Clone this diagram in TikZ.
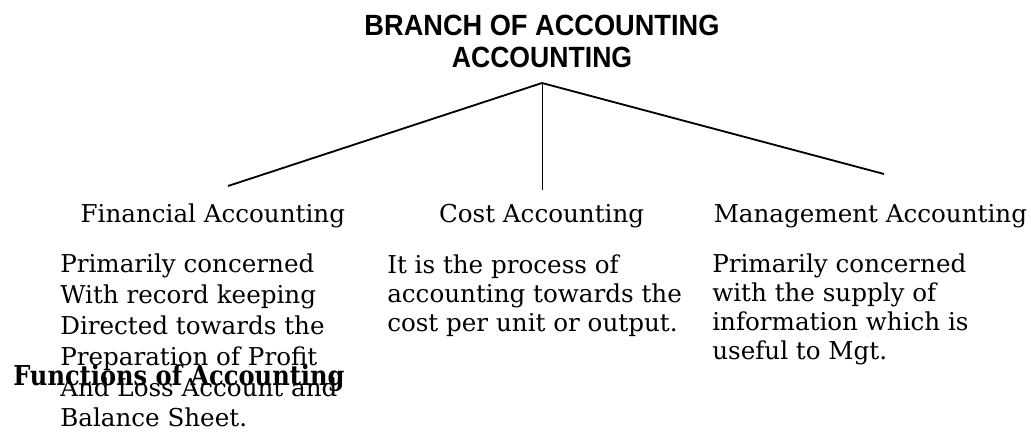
\documentclass[tikz,border=0pt]{standalone}
\usepackage{fontspec}
\usepackage{graphicx}
\usepackage{xcolor}
\setmainfont{DejaVu Serif}
\newfontfamily\titlefont{Liberation Sans}

\begin{document}
\begin{tikzpicture}
\def \headfont {\fontsize{17.5}{21}\selectfont}
\def \bodyfont {\fontsize{17.5}{20.6}\selectfont}

\useasboundingbox (0,0) rectangle (25.775,-10.825);

\node[font=\titlefont\bfseries\fontsize{20.8}{24}\selectfont] at (13.55,-0.64) (title) {\scalebox{0.93}[1]{BRANCH OF ACCOUNTING}};
\node[font=\titlefont\bfseries\fontsize{20.8}{24}\selectfont] at (13.55,-1.44) (acc) {\scalebox{0.91}[1]{ACCOUNTING}};

\coordinate (apex) at (13.55,-2.075);
\coordinate (fin end) at (5.7,-4.65);
\coordinate (cost end) at (13.55,-4.75);
\coordinate (mgt end) at (22.1,-4.35);

\draw[line width=1.3pt] (apex) -- (fin end);
\draw[line width=0.7pt] (apex) -- (cost end);
\draw[line width=1.3pt] (apex) -- (mgt end);

\node[font=\headfont] at (5.32,-5.4) (fin) {Financial Accounting};
\node[font=\headfont] at (13.54,-5.4) (cost) {Cost Accounting};
\node[font=\headfont] at (21.76,-5.4) (mgt) {Management Accounting};

\node[font=\fontsize{17.5}{22}\selectfont, align=left, anchor=north west, inner sep=0pt] at (1.5,-6.333) (fin text)
  {Primarily concerned\\With record keeping\\Directed towards the\\Preparation of Profit\\And Loss Account and\\Balance Sheet.};
\node[font=\bodyfont, align=left, anchor=north west, inner sep=0pt] at (9.675,-6.36) (cost text)
  {It is the process of\\accounting towards the\\cost per unit or output.};
\node[font=\bodyfont, align=left, anchor=north west, inner sep=0pt] at (17.8,-6.333) (mgt text)
  {Primarily concerned\\with the supply of\\information which is\\useful to Mgt.};

\node[font=\bfseries\fontsize{19.5}{23}\selectfont, anchor=base west, inner sep=0pt] at (0.325,-9.625) (functions) {\scalebox{0.88}[1]{Functions of Accounting}};

\end{tikzpicture}
\end{document}
